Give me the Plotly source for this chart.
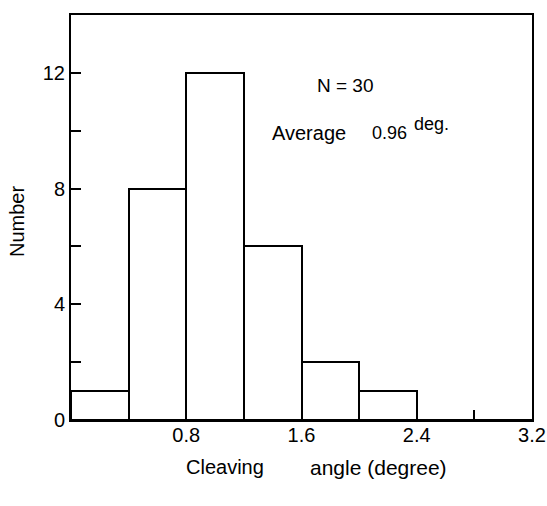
import plotly.graph_objects as go

bin_starts = [0.0, 0.4, 0.8, 1.2, 1.6, 2.0, 2.4, 2.8]
counts = [1, 8, 12, 6, 2, 1, 0, 0]
bin_width = 0.4
x_tick_vals = [0.4, 0.8, 1.2, 1.6, 2.0, 2.4, 2.8, 3.2]
x_tick_text = ["", "0.8", "", "1.6", "", "2.4", "", "3.2"]
y_tick_vals = [0, 2, 4, 6, 8, 10, 12]
y_tick_text = ["0", "", "4", "", "8", "", "12"]

centers = [s + bin_width / 2 for s in bin_starts]

fig = go.Figure()
fig.add_trace(go.Bar(
    x=centers, y=counts, width=[bin_width] * len(counts),
    marker=dict(color="white", line=dict(color="black", width=2)),
    showlegend=False, hoverinfo="skip"
))

font = dict(family="Liberation Sans, Arial, sans-serif", color="black")
tfont = dict(family="Liberation Sans Narrow, Liberation Sans, Arial, sans-serif",
             color="black", size=20)

W, H = 547, 506
L, R, T, B = 71, 15, 15, 86
fig.update_layout(
    width=W, height=H,
    margin=dict(l=L, r=R, t=T, b=B, autoexpand=False),
    paper_bgcolor="white", plot_bgcolor="white",
    font=dict(**font, size=18),
    bargap=0,
)
fig.update_xaxes(
    range=[0, 3.2], showgrid=False, zeroline=False, automargin=False,
    showline=True, linecolor="black", linewidth=2, mirror=True,
    ticks="inside", ticklen=10, tickwidth=2, tickcolor="black",
    tickvals=x_tick_vals, ticktext=x_tick_text, tickfont=tfont,
    ticklabelstandoff=-4,
)
fig.update_yaxes(
    range=[0, 14], showgrid=False, zeroline=False, automargin=False,
    showline=True, linecolor="black", linewidth=2, mirror=True,
    ticks="inside", ticklen=10, tickwidth=2, tickcolor="black",
    tickvals=y_tick_vals, ticktext=y_tick_text, tickfont=tfont,
)

fig.add_annotation(x=1.902, y=11.56, xref="x", yref="y", text="N = 30",
                   xanchor="center", yanchor="middle",
                   showarrow=False, font=dict(size=19, **font))
fig.add_annotation(x=1.381, y=9.92, xref="x", yref="y", xanchor="left",
                   yanchor="middle",
                   text="Average", showarrow=False, font=dict(size=20, **font))
fig.add_annotation(x=2.076, y=9.92, xref="x", yref="y", xanchor="left",
                   yanchor="middle",
                   text="0.96", showarrow=False, font=dict(size=18, **font))
fig.add_annotation(x=2.367, y=10.22, xref="x", yref="y", xanchor="left",
                   yanchor="middle",
                   text="deg.", showarrow=False, font=dict(size=18, **font))

plot_w = 532 - 71
plot_h = 420 - 15
fig.add_annotation(x=(225 - 71) / plot_w, y=(420 - 467) / plot_h,
                   xref="paper", yref="paper", text="Cleaving",
                   xanchor="center", yanchor="middle",
                   showarrow=False, font=dict(size=20, **font))
fig.add_annotation(x=(378 - 71) / plot_w, y=(420 - 467) / plot_h,
                   xref="paper", yref="paper", text="angle (degree)",
                   xanchor="center", yanchor="middle",
                   showarrow=False, font=dict(size=21, **font))
fig.add_annotation(x=(17 - 71) / plot_w, y=(420 - 222) / plot_h,
                   xref="paper", yref="paper", text="Number", textangle=-90,
                   xanchor="center", yanchor="middle",
                   showarrow=False, font=dict(size=20, **font))

fig.write_html(
    "out.html",
    config={"displayModeBar": False},
    post_script="document.body.style.margin='0';document.body.style.overflow='hidden';",
)
